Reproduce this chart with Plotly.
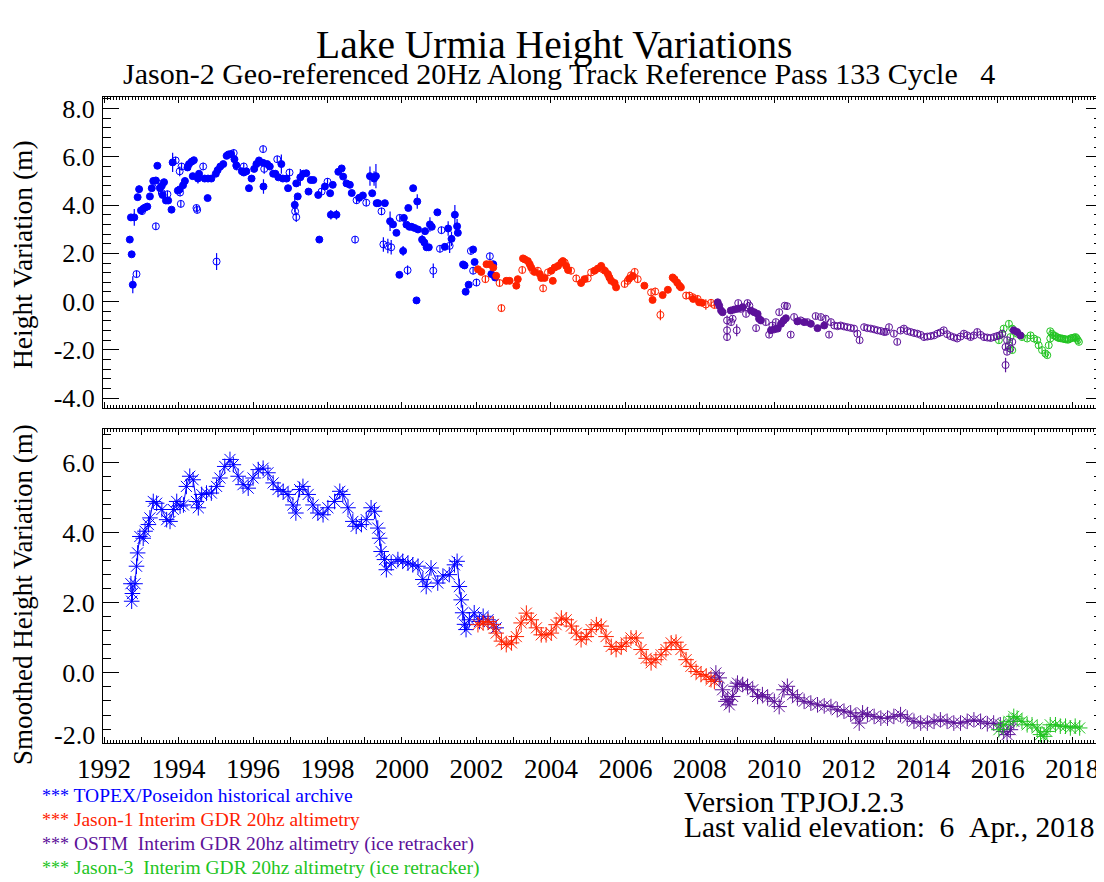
import plotly.graph_objects as go

# ---------------- DATA ----------------
# Top panel: raw height variations (m); filled = good, open = flagged points
topex_fill_t = [1992.69,1992.72,1992.74,1992.77,1992.81,1992.90,1992.94,1992.99,1993.05,1993.10,
                1993.16,1993.23,1993.28,1993.32,1993.39,1993.43,1993.50,1993.55,1993.57,1993.61,
                1993.66,1993.72,1993.81,1993.84,1993.98,1994.03,1994.12,1994.17,1994.24,1994.28,
                1994.35,1994.38,1994.41,1994.52,1994.55,1994.70,1994.78,1994.79,1994.88,1995.00,
                1995.05,1995.12,1995.20,1995.29,1995.34,1995.41,1995.50,1995.55,1995.70,1995.75,
                1995.82,1995.89,1995.96,1996.03,1996.09,1996.16,1996.27,1996.28,1996.38,1996.45,
                1996.54,1996.60,1996.68,1996.76,1996.80,1996.90,1996.94,1997.12,1997.16,1997.20,
                1997.27,1997.35,1997.43,1997.49,1997.55,1997.62,1997.75,1997.78,1997.93,1998.07,
                1998.09,1998.14,1998.24,1998.29,1998.38,1998.42,1998.51,1998.60,1998.65,1998.85,
                1998.95,1999.14,1999.20,1999.25,1999.30,1999.32,1999.36,1999.54,1999.68,1999.76,
                1999.85,1999.93,2000.03,2000.05,2000.12,2000.17,2000.20,2000.26,2000.30,2000.34,
                2000.39,2000.41,2000.43,2000.54,2000.60,2000.62,2000.66,2000.72,2000.75,2000.80,
                2000.95,2001.15,2001.24,2001.33,2001.42,2001.48,2001.50,2001.64,2001.68,2001.71,
                2001.79,2001.91,2001.95,2002.40,2002.45,2002.50]
topex_fill_h = [2.57,3.49,1.96,0.70,3.49,4.33,4.66,3.78,3.85,3.90,
                3.94,4.36,4.70,5.00,5.02,5.63,4.70,4.80,4.42,4.95,
                4.19,4.19,3.81,5.77,4.60,4.65,4.82,5.00,5.56,5.70,
                5.80,5.20,5.86,5.10,5.30,5.10,4.29,5.10,5.10,5.30,
                5.45,5.60,5.70,6.04,6.10,6.12,5.90,5.65,5.40,5.35,
                5.40,4.70,5.10,5.50,5.70,5.85,5.75,4.77,5.70,5.60,
                5.30,5.30,5.15,5.70,5.10,5.10,4.70,4.01,4.90,4.36,
                5.15,5.30,5.32,4.56,5.04,5.04,4.42,2.57,4.77,4.49,
                3.60,4.84,3.60,5.38,5.52,5.18,4.90,4.84,4.50,4.30,
                4.40,5.20,4.49,5.10,5.20,4.08,4.08,4.08,3.33,3.20,
                2.85,1.11,2.10,3.47,3.19,3.88,3.10,3.10,4.70,3.05,
                0.05,4.15,2.99,2.57,2.45,2.92,2.25,2.25,3.20,3.10,
                3.70,2.27,3.03,2.60,3.60,3.12,2.85,1.54,1.50,0.41,
                0.70,2.16,1.64,1.14,1.55,1.00]
topex_fill_e = [0.10,0.05,0.10,0.35,0.35,0.10,0.15,0.05,0.05,0.05,
                0.05,0.05,0.05,0.05,0.05,0.05,0.05,0.05,0.05,0.05,
                0.05,0.05,0.05,0.40,0.10,0.10,0.05,0.05,0.05,0.05,
                0.05,0.05,0.05,0.20,0.10,0.05,0.05,0.05,0.05,0.05,
                0.05,0.05,0.05,0.05,0.05,0.05,0.05,0.05,0.05,0.05,
                0.05,0.05,0.05,0.05,0.05,0.05,0.05,0.30,0.05,0.05,
                0.05,0.05,0.05,0.40,0.05,0.05,0.05,0.30,0.05,0.05,
                0.35,0.05,0.05,0.05,0.05,0.05,0.05,0.05,0.05,0.05,
                0.20,0.05,0.20,0.05,0.05,0.05,0.05,0.05,0.05,0.05,
                0.05,0.40,0.05,0.30,0.50,0.05,0.05,0.05,0.40,0.10,
                0.05,0.05,0.20,0.05,0.05,0.05,0.05,0.05,0.10,0.05,
                0.05,0.30,0.05,0.20,0.05,0.05,0.05,0.05,0.30,0.05,
                0.05,0.05,0.30,0.30,0.40,0.30,0.05,0.05,0.05,0.05,
                0.05,0.05,0.05,0.05,0.05,0.05]

topex_open_t = [1992.87,1993.02,1993.39,1993.45,1993.55,1993.70,1993.92,1994.03,1994.04,1994.06,
                1994.08,1994.48,1994.50,1994.66,1995.02,1995.48,1995.56,1995.75,1996.27,1996.30,
                1996.65,1996.98,1997.13,1997.16,1997.84,1998.00,1998.74,1998.78,1999.04,1999.45,
                1999.50,1999.62,1999.71,1999.94,2000.15,2000.84,2001.02,2001.06,2001.28,2001.85,
                2001.91,2002.00,2002.36]
topex_open_h = [1.14,3.75,3.12,4.90,4.50,4.45,5.85,5.40,4.52,4.05,
                5.60,3.88,3.80,5.60,1.66,6.16,5.60,5.60,6.32,5.50,
                5.90,5.35,3.74,3.50,4.56,4.97,2.57,4.20,4.10,3.74,
                2.37,2.30,2.25,3.47,1.30,1.28,2.19,2.96,2.31,2.10,
                1.28,0.79,1.88]
topex_open_e = [0.15,0.15,0.15,0.15,0.15,0.15,0.15,0.20,0.15,0.15,
                0.15,0.15,0.15,0.15,0.35,0.15,0.15,0.15,0.15,0.20,
                0.15,0.15,0.15,0.20,0.15,0.15,0.15,0.15,0.15,0.15,
                0.30,0.30,0.30,0.15,0.20,0.30,0.15,0.15,0.30,0.15,
                0.15,0.15,0.15]

jason1_fill_t = [2002.04,2002.13,2002.27,2002.36,2002.45,2002.53,2002.80,2002.89,2003.07,2003.11,
                 2003.25,2003.30,2003.38,2003.43,2003.47,2003.56,2003.70,2003.74,2003.83,2004.01,
                 2004.05,2004.10,2004.19,2004.28,2004.32,2004.41,2004.46,2004.81,2004.90,2005.17,
                 2005.26,2005.35,2005.45,2005.53,2005.57,2005.62,2005.71,2005.75,2006.10,2006.20,
                 2006.51,2006.73,2007.00,2007.14,2007.27,2007.32,2007.39,2007.45,2007.49,2007.82,
                 2007.98,2008.06]
jason1_fill_h = [1.34,1.23,1.55,1.55,1.41,1.07,0.86,0.86,0.66,0.93,
                 1.79,1.75,1.68,1.55,1.41,1.23,1.14,0.98,0.98,1.28,
                 0.86,1.41,1.48,1.62,1.68,1.48,1.31,0.77,0.93,1.28,
                 1.37,1.48,1.28,1.14,1.00,0.86,0.77,0.59,0.95,1.05,
                 0.66,0.07,0.27,0.49,1.00,0.93,0.79,0.66,0.59,0.11,
                 -0.03,-0.05]

jason1_open_t = [2002.24,2002.62,2002.67,2003.23,2003.52,2003.65,2003.79,2003.92,2004.37,2004.54,
                 2004.68,2004.99,2005.08,2005.39,2005.98,2006.06,2006.15,2006.25,2006.33,2006.69,
                 2006.80,2006.94,2007.63,2007.72,2007.81,2007.94,2008.16,2008.30,2008.39]
jason1_open_h = [0.93,0.77,-0.27,1.31,1.28,1.28,0.55,1.21,1.62,1.28,
                 0.96,0.96,1.21,1.34,0.73,0.86,1.09,1.23,0.93,0.38,
                 0.42,-0.55,0.25,0.25,0.18,0.11,-0.12,-0.05,-0.14]
jason1_open_e = [0.15,0.15,0.15,0.15,0.15,0.15,0.15,0.15,0.15,0.15,
                 0.15,0.15,0.15,0.15,0.15,0.15,0.15,0.15,0.15,0.15,
                 0.15,0.22,0.15,0.15,0.15,0.15,0.22,0.15,0.15]

ostm_fill_t = [2008.48,2008.52,2008.57,2008.61,2008.83,2008.92,2009.01,2009.15,2009.37,2009.46,
               2009.55,2009.59,2009.64,2009.91,2010.00,2010.09,2010.18,2010.25,2010.31,2010.62,
               2010.80,2010.98,2011.16,2011.34,2016.43,2016.52,2016.61]
ostm_fill_h = [-0.03,-0.17,-0.37,-0.44,-0.37,-0.33,-0.30,-0.23,-0.37,-0.44,
               -0.51,-0.71,-0.78,-1.19,-1.15,-1.12,-0.92,-0.78,-0.69,-0.82,
               -0.85,-0.92,-1.10,-0.99,-1.19,-1.26,-1.40]

ostm_open_t = [2008.73,2008.73,2008.73,2008.84,2008.88,2008.99,2009.03,2009.10,2009.24,2009.28,
               2009.33,2009.51,2009.77,2009.86,2009.95,2010.04,2010.13,2010.28,2010.34,2010.44,
               2010.53,2010.71,2010.89,2011.11,2011.25,2011.38,2011.47,2011.52,2011.61,2011.70,
               2011.78,2011.87,2011.96,2012.05,2012.14,2012.23,2012.29,2012.41,2012.50,2012.59,
               2012.68,2012.77,2012.86,2012.95,2013.00,2013.08,2013.21,2013.30,2013.39,2013.48,
               2013.57,2013.66,2013.75,2013.84,2013.93,2014.02,2014.11,2014.20,2014.29,2014.38,
               2014.46,2014.55,2014.64,2014.73,2014.82,2014.91,2015.00,2015.09,2015.18,2015.27,
               2015.36,2015.45,2015.54,2015.63,2015.72,2015.81,2015.90,2015.98,2016.05,2016.12,
               2016.21,2016.21,2016.25,2016.25,2016.34,2016.39]
ostm_open_h = [-0.78,-1.19,-1.47,-0.85,-0.71,-1.19,-0.06,-0.30,-0.51,-0.06,
               -0.17,-1.10,-0.85,-1.37,-0.99,-0.85,-0.44,-0.17,-0.19,-1.37,
               -0.64,-0.78,-0.85,-0.60,-0.64,-0.71,-1.37,-0.85,-0.99,-1.02,
               -0.99,-1.03,-1.06,-1.09,-1.12,-1.33,-1.60,-1.06,-1.10,-1.12,
               -1.15,-1.19,-1.22,-1.26,-1.25,-1.06,-1.33,-1.67,-1.20,-1.12,
               -1.22,-1.26,-1.30,-1.33,-1.38,-1.47,-1.45,-1.43,-1.40,-1.33,
               -1.28,-1.19,-1.35,-1.43,-1.48,-1.53,-1.45,-1.33,-1.40,-1.47,
               -1.40,-1.26,-1.38,-1.47,-1.49,-1.51,-1.47,-1.43,-1.40,-1.33,
               -1.88,-2.63,-1.60,-2.08,-1.95,-1.67]
ostm_open_e = [0.20,0.20,0.15,0.12,0.12,0.25,0.12,0.12,0.12,0.12,
               0.12,0.12,0.12,0.12,0.12,0.12,0.12,0.12,0.12,0.12,
               0.12,0.12,0.12,0.12,0.12,0.12,0.12,0.12,0.12,0.12,
               0.12,0.12,0.12,0.12,0.12,0.12,0.12,0.12,0.12,0.12,
               0.12,0.12,0.12,0.12,0.12,0.12,0.12,0.12,0.12,0.12,
               0.12,0.12,0.12,0.12,0.12,0.12,0.12,0.12,0.12,0.12,
               0.12,0.12,0.12,0.12,0.12,0.12,0.12,0.12,0.12,0.12,
               0.12,0.12,0.12,0.12,0.12,0.12,0.12,0.12,0.12,0.12,
               0.12,0.30,0.12,0.12,0.12,0.12]

jason3_open_t = [2016.03,2016.12,2016.16,2016.30,2016.30,2016.34,2016.39,2016.39,2016.52,2016.65,
                 2016.79,2016.88,2016.97,2017.06,2017.10,2017.19,2017.28,2017.33,2017.37,2017.41,
                 2017.41,2017.46,2017.50,2017.55,2017.60,2017.64,2017.68,2017.73,2017.78,2017.82,
                 2017.87,2017.91,2017.96,2018.00,2018.05,2018.09,2018.12,2018.15,2018.18]
jason3_open_h = [-1.60,-1.33,-1.12,-0.92,-1.81,-1.47,-1.12,-2.01,-1.33,-1.47,
                 -1.53,-1.40,-1.53,-1.60,-1.81,-2.01,-2.15,-2.22,-1.81,-1.53,
                 -1.23,-1.33,-1.40,-1.43,-1.48,-1.51,-1.52,-1.53,-1.55,-1.56,
                 -1.58,-1.57,-1.52,-1.51,-1.49,-1.47,-1.52,-1.60,-1.67]

# Bottom panel: smoothed height variations (m)
sm_topex_t = [1992.72,1992.74,1992.76,1992.83,1992.87,1992.90,1992.96,1993.05,1993.10,1993.19,
              1993.23,1993.32,1993.41,1993.55,1993.68,1993.77,1993.86,1993.95,1994.04,1994.13,
              1994.21,1994.30,1994.39,1994.48,1994.53,1994.62,1994.75,1994.88,1995.02,1995.11,
              1995.24,1995.38,1995.47,1995.60,1995.73,1995.87,1996.00,1996.14,1996.27,1996.40,
              1996.54,1996.67,1996.81,1996.94,1997.07,1997.15,1997.25,1997.34,1997.48,1997.61,
              1997.74,1997.88,1998.01,1998.19,1998.33,1998.41,1998.55,1998.68,1998.77,1998.91,
              1999.04,1999.17,1999.26,1999.35,1999.40,1999.44,1999.53,1999.58,1999.71,1999.89,
              2000.02,2000.16,2000.29,2000.43,2000.56,2000.65,2000.78,2000.96,2001.10,2001.27,
              2001.41,2001.48,2001.54,2001.59,2001.63,2001.68,2001.72,2001.81,2001.94,2002.08,
              2002.18,2002.31,2002.45,2002.53]
sm_topex_h = [2.55,2.05,2.27,2.55,3.05,3.43,3.90,3.85,4.05,4.24,
              4.43,4.90,4.85,4.67,4.38,4.33,4.67,4.90,4.77,4.80,
              5.33,5.62,5.52,4.90,4.72,5.10,5.14,5.14,5.33,5.57,
              5.90,6.10,5.95,5.62,5.38,5.28,5.57,5.81,5.85,5.72,
              5.43,5.24,5.19,5.10,4.80,4.57,5.24,5.33,5.10,4.80,
              4.57,4.52,4.72,4.90,5.19,5.10,4.72,4.33,4.19,4.24,
              4.38,4.72,4.62,4.14,3.85,3.47,3.24,2.95,3.14,3.24,
              3.19,3.14,3.09,3.05,2.67,2.47,3.00,2.57,2.77,2.81,
              3.09,3.19,2.47,2.09,1.72,1.39,1.24,1.52,1.72,1.47,
              1.62,1.52,1.39,1.29]

sm_jason1_t = [2002.04,2002.18,2002.31,2002.45,2002.53,2002.67,2002.80,2002.94,2003.07,2003.20,
               2003.34,2003.47,2003.61,2003.74,2003.87,2004.01,2004.14,2004.28,2004.41,2004.55,
               2004.68,2004.81,2004.95,2005.08,2005.22,2005.35,2005.48,2005.62,2005.75,2005.89,
               2006.02,2006.15,2006.29,2006.42,2006.56,2006.69,2006.82,2006.96,2007.09,2007.23,
               2007.36,2007.49,2007.63,2007.76,2007.90,2008.03,2008.17,2008.30,2008.39]
sm_jason1_h = [1.38,1.43,1.47,1.38,1.14,0.91,0.81,0.86,1.04,1.43,
               1.71,1.52,1.29,1.09,1.09,1.14,1.38,1.57,1.52,1.34,
               1.14,0.95,1.04,1.24,1.38,1.34,1.04,0.76,0.67,0.76,
               0.86,1.00,1.00,0.67,0.42,0.29,0.38,0.52,0.67,0.86,
               0.88,0.67,0.38,0.19,0.04,-0.04,-0.09,-0.19,-0.24]

sm_ostm_t = [2008.43,2008.52,2008.61,2008.70,2008.75,2008.79,2008.88,2008.97,2009.01,2009.15,
             2009.28,2009.42,2009.55,2009.68,2009.82,2010.00,2010.13,2010.26,2010.35,2010.49,
             2010.62,2010.80,2010.98,2011.16,2011.34,2011.52,2011.69,2011.87,2012.05,2012.19,
             2012.28,2012.37,2012.50,2012.68,2012.86,2013.04,2013.21,2013.39,2013.57,2013.75,
             2013.93,2014.11,2014.29,2014.46,2014.64,2014.82,2015.00,2015.18,2015.36,2015.54,
             2015.72,2015.89,2016.07,2016.16,2016.25,2016.34,2016.43]
sm_ostm_h = [0.00,-0.14,-0.48,-0.81,-0.76,-0.91,-0.67,-0.38,-0.29,-0.33,
             -0.38,-0.48,-0.67,-0.62,-0.71,-0.81,-0.96,-0.48,-0.38,-0.62,
             -0.71,-0.81,-0.86,-0.91,-0.94,-0.96,-1.05,-1.09,-1.14,-1.24,
             -1.43,-1.14,-1.19,-1.24,-1.29,-1.29,-1.24,-1.19,-1.29,-1.38,
             -1.43,-1.43,-1.38,-1.34,-1.38,-1.43,-1.43,-1.38,-1.34,-1.38,
             -1.45,-1.43,-1.48,-1.67,-1.76,-1.62,-1.38]

sm_jason3_t = [2016.03,2016.16,2016.30,2016.43,2016.52,2016.65,2016.79,2016.92,2017.06,2017.15,
               2017.24,2017.32,2017.41,2017.55,2017.68,2017.82,2017.95,2018.08,2018.20]
sm_jason3_h = [-1.62,-1.48,-1.38,-1.24,-1.29,-1.38,-1.48,-1.48,-1.57,-1.76,
               -1.81,-1.67,-1.48,-1.48,-1.52,-1.52,-1.57,-1.52,-1.57]

years = list(range(1992, 2019))
year_labels = [str(y) if y % 2 == 0 else "" for y in years]
top_yticks = [-4, -2, 0, 2, 4, 6, 8]
bot_yticks = [0, 2, 4, 6]

legend_lines = ["TOPEX/Poseidon historical archive",
                "Jason-1 Interim GDR 20hz altimetry",
                "OSTM\u00a0\u00a0Interim GDR 20hz altimetry (ice retracker)",
                "Jason-3\u00a0\u00a0Interim GDR 20hz altimetry (ice retracker)"]

# ---------------- STYLE ----------------
OFF = 8                      # default page (body) margin of the html page
W, H = 1104 - OFF, 882 - OFF
BLUE, RED, PURPLE, GREEN = "#0000ff", "#ff2200", "#5c1199", "#22c422"
FONT = "Liberation Serif, Times New Roman, serif"

def fx(x):
    return (x - OFF) / W

def fy(y):
    return 1 - (y - OFF) / H

fig = go.Figure()

def raw(t, h, c, filled, e=None):
    marker = dict(symbol="circle" if filled else "circle-open", size=7, color=c,
                  line=dict(color=c, width=1))
    err = None
    if e is not None:
        err = dict(type="data", array=e, visible=True, thickness=1.2, width=0, color=c)
    fig.add_trace(go.Scatter(x=t, y=h, mode="markers", marker=marker, error_y=err,
                             xaxis="x", yaxis="y", hoverinfo="x+y"))

raw(topex_fill_t, topex_fill_h, BLUE, True, topex_fill_e)
raw(topex_open_t, topex_open_h, BLUE, False, topex_open_e)
raw(jason1_fill_t, jason1_fill_h, RED, True)
raw(jason1_open_t, jason1_open_h, RED, False, jason1_open_e)
raw(jason3_open_t, jason3_open_h, GREEN, False, [0.12] * len(jason3_open_t))
raw(ostm_open_t, ostm_open_h, PURPLE, False, ostm_open_e)
raw(ostm_fill_t, ostm_fill_h, PURPLE, True)

def smooth(t, h, c):
    fig.add_trace(go.Scatter(x=t, y=h, mode="lines+markers",
                             line=dict(color=c, width=1),
                             marker=dict(symbol="asterisk-open", size=13, color=c,
                                         line=dict(color=c, width=1)),
                             xaxis="x2", yaxis="y2", hoverinfo="x+y"))

smooth(sm_topex_t, sm_topex_h, BLUE)
smooth(sm_jason1_t, sm_jason1_h, RED)
smooth(sm_ostm_t, sm_ostm_h, PURPLE)
smooth(sm_jason3_t, sm_jason3_h, GREEN)

common = dict(showline=True, linecolor="black", linewidth=1, mirror="ticks",
              ticks="inside", tickcolor="black", showgrid=False, zeroline=False,
              automargin=False)
xdom = [fx(103), fx(1102)]
xrange_ = [1991.97, 2018.8]
xminor = dict(tickmode="linear", tick0=1992, dtick=1 / 12, ticklen=3, ticks="inside",
              tickcolor="black", showgrid=False)
yminor = dict(tickmode="linear", tick0=0, dtick=0.4, ticklen=8, ticks="inside",
              tickcolor="black", showgrid=False)

fig.update_layout(
    width=W, height=H, margin=dict(l=0, r=0, t=0, b=0, pad=0, autoexpand=False),
    paper_bgcolor="white", plot_bgcolor="white", showlegend=False,
    font=dict(family=FONT, color="black"),
    xaxis=dict(domain=xdom, range=xrange_, anchor="y", tickmode="array",
               tickvals=years, ticktext=year_labels, showticklabels=False,
               ticklen=6, minor=xminor, **common),
    yaxis=dict(domain=[fy(408), fy(97)], range=[-4.41, 8.48], anchor="x",
               tickmode="array", tickvals=top_yticks,
               ticktext=[f"{v:.1f}" for v in top_yticks],
               ticklen=16, minor=yminor, tickfont=dict(size=26, family=FONT),
               ticklabelstandoff=2, **common),
    xaxis2=dict(domain=xdom, range=xrange_, anchor="y2", tickmode="array",
                tickvals=years, ticktext=year_labels, ticklen=6, minor=xminor,
                tickfont=dict(size=27, family=FONT), ticklabelstandoff=2, **common),
    yaxis2=dict(domain=[fy(743), fy(429)], range=[-2.0, 6.97], anchor="x2",
                tickmode="array", tickvals=bot_yticks,
                ticktext=[f"{v:.1f}" for v in bot_yticks],
                ticklen=16, minor=yminor, tickfont=dict(size=26, family=FONT),
                ticklabelstandoff=2, **common),
)

def ann(text, x, y, size, color="black", xanchor="center", angle=0):
    fig.add_annotation(text=text, x=fx(x), y=fy(y), xref="paper", yref="paper",
                       showarrow=False, xanchor=xanchor, yanchor="middle",
                       textangle=angle, font=dict(size=size, color=color, family=FONT))

ann("Lake Urmia Height Variations", 554, 45, 39.5)
ann("Jason-2 Geo-referenced 20Hz Along Track Reference Pass 133 Cycle\u00a0\u00a0\u00a04",
    559, 74, 30)
ann("Height Variation (m)", 23, 255, 27.5, angle=-90)
ann("Smoothed Height Variation (m)", 23, 595, 27, angle=-90)
ann("-2.0", 97, 735, 26, xanchor="right")

for txt, col, yy in zip(legend_lines, [BLUE, RED, PURPLE, GREEN], [795, 819, 844, 868]):
    ann(f"<span style='font-size:18px'>***</span> {txt}", 40, yy, 19.5, color=col,
        xanchor="left")

ann("Version TPJOJ.2.3", 682, 802, 29.5, xanchor="left")
ann("Last valid elevation:\u00a0\u00a06\u00a0\u00a0Apr., 2018", 682, 827, 29.5, xanchor="left")

fig.write_html("out.html")
